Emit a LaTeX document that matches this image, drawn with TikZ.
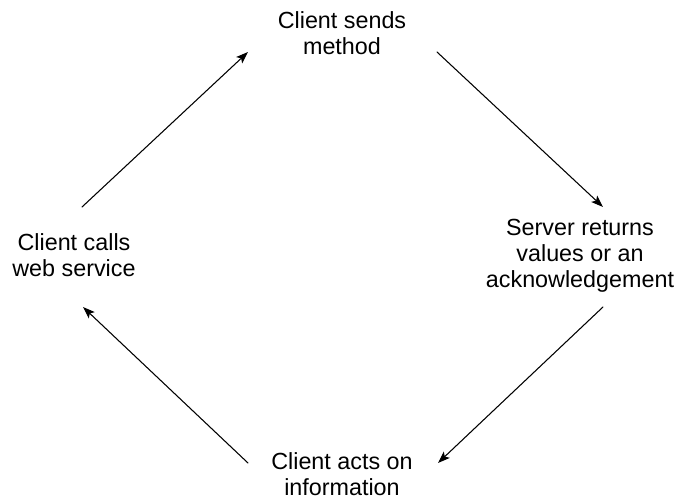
\documentclass[tikz,border=0pt]{standalone}
\usepackage{fontspec}
\setmainfont{Liberation Sans}
\usetikzlibrary{arrows.meta}
\begin{document}
\begin{tikzpicture}[x=0.75pt,y=-0.75pt,line cap=round,
  stage/.style={align=center,font=\fontsize{17.5}{19.5}\selectfont,inner sep=2pt},
  flow/.style={line width=0.8pt,-{Stealth[length=9pt,width=6.5pt,inset=2pt]}}]
  \useasboundingbox (0,0) rectangle (676,498);
  % the four stages of the call
  \node[stage] (send) at (342,33) {Client sends\\method};
  \node[stage] (reply) at (580,256) {Server returns\\values or an\\acknowledgement};
  \node[stage] (act) at (342,474) {Client acts on\\information};
  \node[stage] (call) at (74,255) {Client calls\\web service};
  % ends of the arrows
  \coordinate (call-out) at (82,207);
  \coordinate (send-in) at (248,52);
  \coordinate (send-out) at (437,52);
  \coordinate (reply-in) at (603,207);
  \coordinate (reply-out) at (603,307);
  \coordinate (act-in) at (438,463);
  \coordinate (act-out) at (248,463);
  \coordinate (call-in) at (83,307);
  \draw[flow] (call-out) -- (send-in);
  \draw[flow] (send-out) -- (reply-in);
  \draw[flow] (reply-out) -- (act-in);
  \draw[flow] (act-out) -- (call-in);
\end{tikzpicture}
\end{document}
